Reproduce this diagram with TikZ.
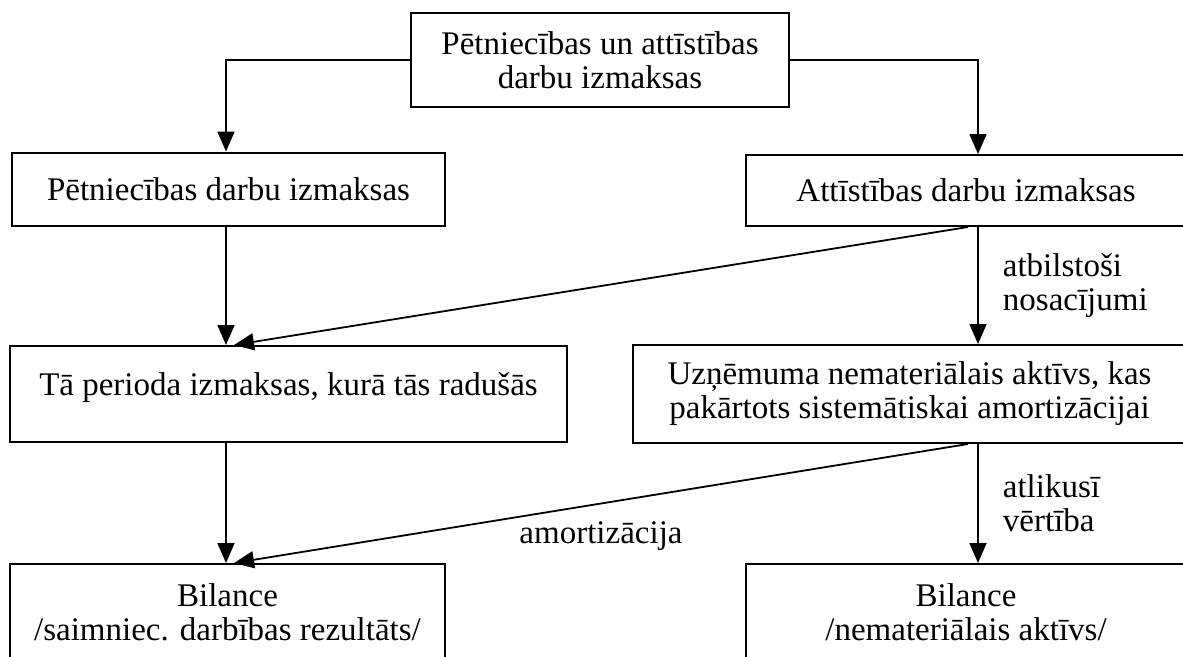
\documentclass[tikz,border=0pt]{standalone}
\usepackage{fontspec}
\setmainfont{Liberation Serif}
\usetikzlibrary{positioning, calc, arrows.meta}
\tikzset{block/.style={draw, line width=2pt, inner sep=0pt, align=center, font=\fontsize{33}{34}\selectfont}}
\tikzset{note/.style={font=\fontsize{33}{34}\selectfont, align=left, inner sep=0pt}}
\tikzstyle{flow}=[line width=1.8pt, -{Triangle[length=20pt, width=17pt]}]

\begin{document}
\begin{tikzpicture}[x=1pt, y=-1pt]
  \path[use as bounding box, clip] (0,0) rectangle (1183,656);

  \node[block, minimum width=378pt, minimum height=94pt] (top) at (600,60) {Pētniecības un attīstības\\darbu izmaksas};
  \node[block, minimum width=433pt, minimum height=73pt] (pet) at (228.5,189) {Pētniecības darbu izmaksas};
  \node[block, minimum width=440pt, minimum height=71pt] (att) at (966,190.5) {Attīstības darbu izmaksas};
  \node[block, minimum width=557pt, minimum height=96pt, text height=23pt, text depth=21pt] (tapa) at (288.5,394) {Tā perioda izmaksas, kurā tās radušās};
  \node[block, minimum width=553pt, minimum height=98pt] (uzn) at (909.5,394) {Uzņēmuma nemateriālais aktīvs, kas\\pakārtots sistemātiskai amortizācijai};
  \node[block, anchor=north, minimum width=435pt, inner ysep=20pt] (bil1) at (227.5,563) {Bilance\\/saimniec. darbības rezultāts/};
  \node[block, anchor=north, minimum width=440pt, inner ysep=20pt] (bil2) at (966,563) {Bilance\\/nemateriālais aktīvs/};

  \coordinate (lx) at (226,0);
  \coordinate (rx) at (978,0);

  \draw[flow] (top.west) -| (lx |- pet.north);
  \draw[flow] (top.east) -| (rx |- att.north);
  \draw[flow] (lx |- pet.south) -- (lx |- tapa.north);
  \draw[flow] ([xshift=2pt]att.south) -- ([xshift=8pt]lx |- tapa.north);
  \draw[flow] (rx |- att.south) -- node[note, right, xshift=24pt] {atbilstoši\\nosacījumi} (rx |- uzn.north);
  \draw[flow] (lx |- tapa.south) -- (lx |- bil1.north);
  \draw[flow] ([xshift=-10pt]rx |- uzn.south) -- node[note, below, yshift=-17pt] {amortizācija} ([xshift=8pt]lx |- bil1.north);
  \draw[flow] (rx |- uzn.south) -- node[note, right, xshift=24pt] {atlikusī\\vērtība} (rx |- bil2.north);

\end{tikzpicture}
\end{document}
